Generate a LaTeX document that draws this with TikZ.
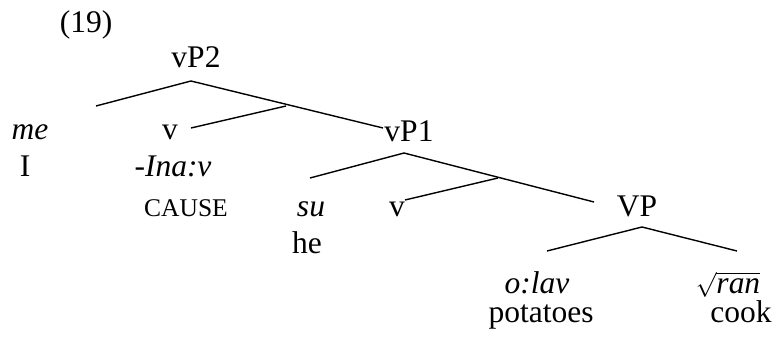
\documentclass[tikz,border=0pt]{standalone}
\usepackage{fontspec}
\setmainfont{Liberation Serif}
\begin{document}
\begin{tikzpicture}[x=1pt,y=-1pt,
  lbl/.style={anchor=base,inner sep=0pt,font=\fontsize{31.5}{36}\selectfont},
  smallcaplbl/.style={anchor=base,inner sep=0pt,font=\fontsize{25.5}{30}\selectfont},
  br/.style={line width=1.4pt}]
\useasboundingbox (0,0) rectangle (779,339);
% labels
\node[lbl] (ex) at (86,33) {(19)};
\node[lbl] (vPtwo) at (196,68) {vP2};
\node[lbl] (me) at (30,140) {\itshape me};
\node[lbl] (I) at (25,177) {I};
\node[lbl] (vtwo) at (170,140) {v};
\node[lbl] (ina) at (173,177) {\itshape -Ina:v};
\node[smallcaplbl] (cause) at (186,217) {CAUSE};
\node[lbl] (vPone) at (409,142) {vP1};
\node[lbl] (su) at (311,217) {\itshape su};
\node[lbl] (he) at (307,253) {he};
\node[lbl] (vone) at (397,217) {v};
\node[lbl] (VP) at (637,217) {VP};
\node[lbl] (olav) at (537,293) {\itshape o:lav};
\node[lbl] (pot) at (541,322) {potatoes};
\node[lbl] (ran) at (728,293) {$\sqrt{\mbox{\itshape ran}}$};
\node[lbl] (cook) at (741,322) {cook};
% branch points
\coordinate (a2) at (191,81);
\coordinate (l2) at (96,106);
\coordinate (j2) at (286,106);
\coordinate (v2end) at (191,128);
\coordinate (r2) at (383,128);
\coordinate (a1) at (404,153);
\coordinate (l1) at (310,178);
\coordinate (j1) at (498,178);
\coordinate (v1end) at (405,200);
\coordinate (r1) at (594,202);
\coordinate (a0) at (642,227);
\coordinate (l0) at (547,251);
\coordinate (r0) at (737,251);
\draw[br] (l2) -- (a2) -- (r2);
\draw[br] (v2end) -- (j2);
\draw[br] (l1) -- (a1) -- (r1);
\draw[br] (v1end) -- (j1);
\draw[br] (l0) -- (a0) -- (r0);
\end{tikzpicture}
\end{document}
